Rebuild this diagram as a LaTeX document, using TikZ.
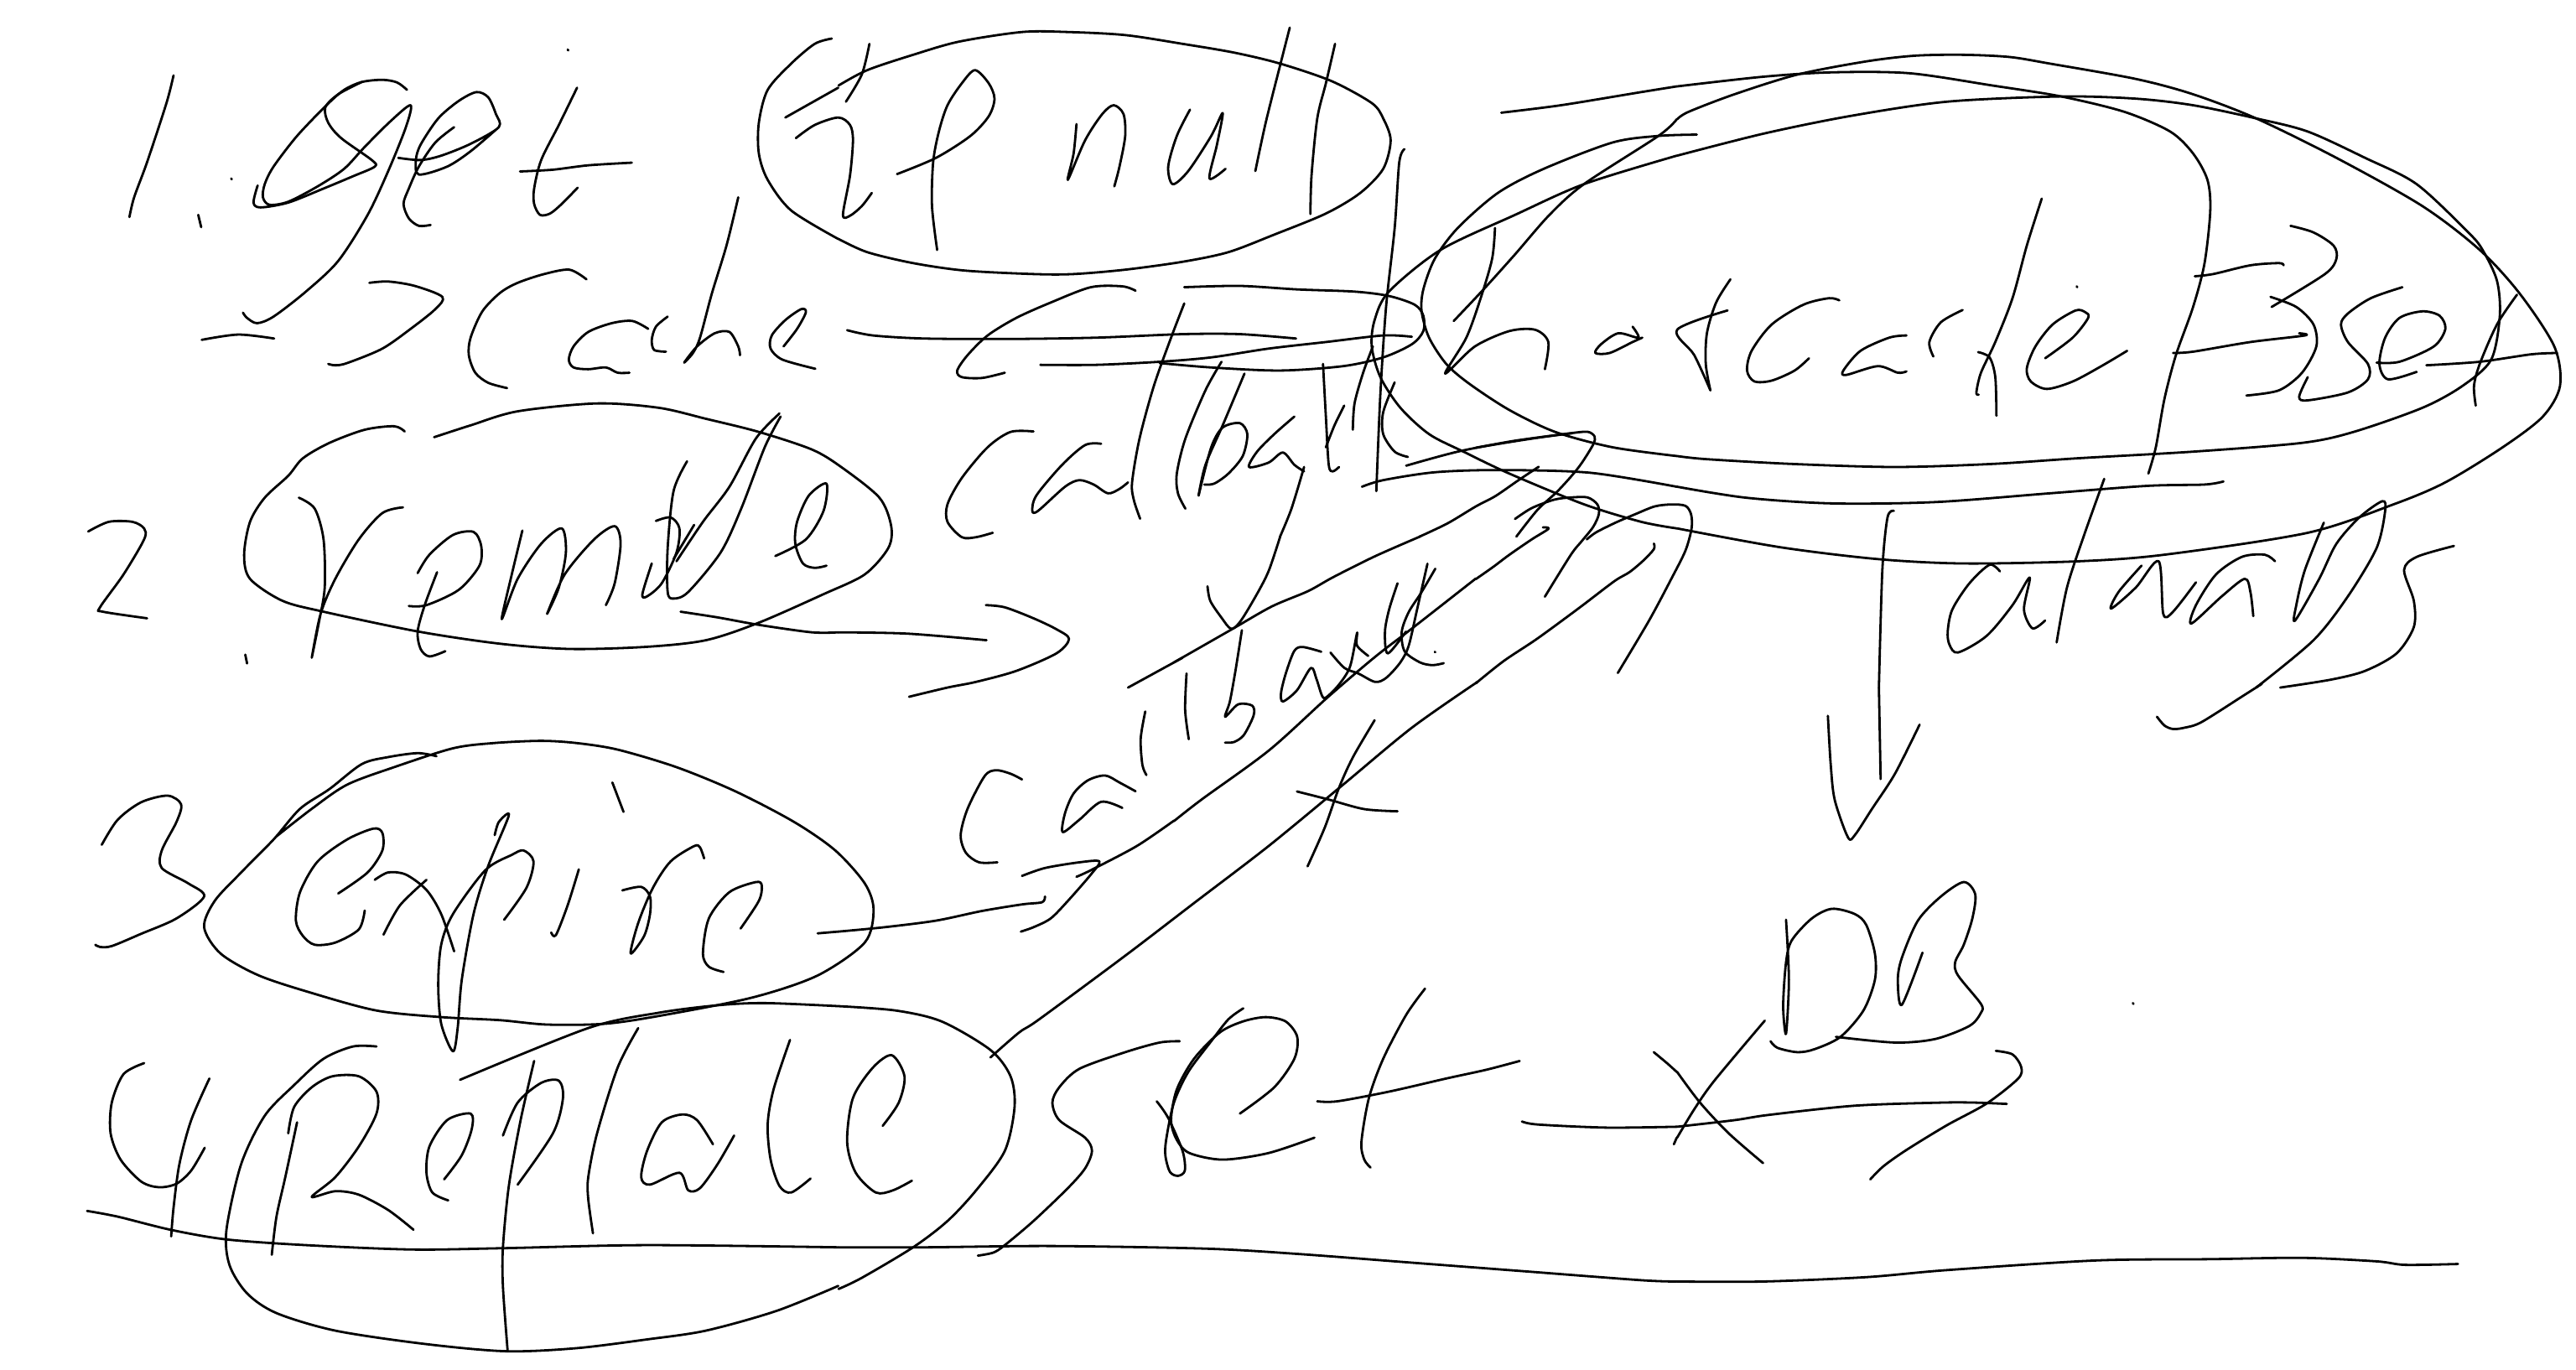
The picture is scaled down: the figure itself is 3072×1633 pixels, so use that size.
\documentclass[tikz,border=0pt]{standalone}
\tikzset{
 ink/.style={line width=2.8pt,black,line cap=round,line join=round},
 zone/.style={xscale=.6837,yscale=.523},
 za/.style={xscale=.7015,yscale=.523},
 zb/.style={shift={(1000,0)},zone},
 zc/.style={shift={(2000,0)},zone},
 zd/.style={shift={(0,813)},za},
 ze/.style={shift={(1000,813)},zone},
 zf/.style={shift={(2000,813)},zone},
 zg/.style={shift={(1400,640)},scale=.3333},
 zh/.style={shift={(1760,480)},scale=.3333},
}
\newcommand\sk[2]{\draw[#1,ink] plot[smooth,tension=.5] coordinates {#2};}
\begin{document}
\begin{tikzpicture}[x=1pt,y=-1pt]
\useasboundingbox[fill=white] (0,0) rectangle (3072,1633);
% 1. get
\sk{za}{(295,172)(283,235)(250,370)(228,450)(220,495)}
\sk{za}{(337,490)(342,518)}
\sk{za}{(393,407)(394,409)}
\sk{za}{(965,113)(966,115)}
\sk{za}{(417,1493)(420,1513)}
\sk{za}{(692,205)(675,188)(650,182)(615,187)(585,205)(555,240)(505,310)(465,380)(450,420)(447,450)(458,467)(490,460)(540,425)(585,385)(620,335)(665,275)(698,240)(690,290)(660,390)(625,490)(575,595)(520,665)(465,722)(437,737)(420,725)(413,713)}
\sk{za}{(438,423)(431,462)(443,473)(490,462)(550,430)(600,402)(637,380)(632,365)(580,315)(558,280)(553,245)(575,215)(615,187)}
\sk{za}{(677,360)(715,365)(750,355)(800,328)(848,290)(843,260)(830,222)(810,210)(780,230)(745,270)(715,330)(707,365)(712,398)(760,380)(800,345)(848,290)}
\sk{za}{(772,290)(740,325)(712,380)(695,430)(686,465)(695,498)(712,515)(732,513)}
\sk{za}{(981,200)(950,285)(920,365)(908,430)(908,465)(918,490)(935,487)(955,465)(982,428)}
\sk{za}{(884,391)(940,387)(1000,377)(1074,371)}
% -> Cache
\sk{za}{(343,775)(405,763)(466,772)}
\sk{za}{(628,645)(660,642)(705,652)(752,677)(740,705)(700,748)(650,795)(590,828)(570,833)(558,830)}
\sk{za}{(997,637)(968,615)(925,625)(880,645)(850,668)(820,710)(800,770)(797,810)(808,850)(830,873)(862,885)}
\sk{za}{(1102,750)(1075,732)(1040,737)(1000,757)(975,790)(967,820)(975,838)(1000,842)(1030,838)(1050,850)(1070,850)}
\sk{za}{(1135,722)(1115,745)(1108,775)(1112,798)(1132,802)}
\sk{za}{(1255,450)(1235,560)(1210,670)(1190,770)(1178,805)(1163,827)(1185,790)(1215,760)(1240,757)(1255,790)(1258,810)}
\sk{za}{(1332,790)(1355,750)(1370,712)(1362,705)(1335,730)(1312,765)(1310,795)(1330,820)(1386,841)}
% if null
\sk{za}{(1414,88)(1385,100)(1345,145)(1305,205)(1290,280)(1290,350)(1305,410)(1345,480)(1425,545)}
\sk{zb}{(0,545)(50,575)(130,600)(220,617)(340,625)(410,625)(500,615)(600,597)(680,575)(760,535)(850,487)(910,440)(950,385)(963,320)(950,270)(930,235)(860,185)(770,145)(690,120)(600,100)(500,80)(400,73)(320,73)(210,95)(130,125)(50,160)(0,195)}
\sk{za}{(1425,200)(1335,268)}
\sk{za}{(1478,100)(1465,170)(1438,232)}
\sk{za}{(1353,315)(1385,285)(1425,268)(1445,285)(1450,320)(1445,400)(1433,490)(1445,492)(1465,470)(1482,440)}
\sk{zb}{(102,397)(170,360)(230,310)(262,265)(272,225)(262,190)(238,160)(215,190)(190,240)(175,300)(165,370)(163,470)(172,570)}
\sk{zb}{(415,283)(410,350)(400,410)(430,320)(460,260)(480,240)(497,260)(500,310)(490,380)(481,425)}
\sk{zb}{(613,250)(590,310)(575,380)(583,420)(610,390)(650,310)(670,258)(660,330)(647,407)(675,385)}
\sk{zb}{(787,63)(770,150)(745,280)(727,390)}
\sk{zb}{(866,100)(850,190)(835,270)(825,400)(823,488)}
\sk{zb}{(987,340)(978,370)(970,520)(955,700)(945,900)(938,1120)}
% cache arrow and loop
\sk{zb}{(15,753)(60,765)(150,772)(300,773)(450,770)(600,762)(700,762)(798,772)}
\sk{zb}{(352,832)(450,832)(560,825)(650,815)(750,795)(850,780)(950,765)(1000,768)}
\sk{zb}{(603,655)(700,652)(800,660)(900,665)(960,675)(1005,695)(1020,720)(1020,755)(1000,785)(950,815)(880,835)(770,845)(650,838)(560,828)}
\sk{zb}{(518,663)(495,653)(440,655)(370,690)(310,725)(260,765)(225,810)(207,845)(215,860)(250,862)(290,850)}
\sk{zb}{(603,692)(580,770)(550,880)(525,1000)(512,1100)(515,1140)(526,1183)}
% hotcache ellipses
\sk{zb}{(1497,307)(1430,310)(1350,325)(1230,385)(1150,440)(1080,520)(1040,590)(1020,660)(1017,710)(1030,770)(1060,830)(1100,875)(1170,935)(1250,985)(1350,1020)(1462,1040)}
\sk{zc}{(0,1040)(50,1047)(200,1058)(380,1065)(550,1058)(700,1045)(900,1030)(1090,1010)(1180,985)(1300,930)(1370,880)(1420,820)(1435,720)(1430,640)(1405,570)(1380,530)(1290,420)(1200,360)(1100,300)(1010,270)(900,240)(800,225)(670,220)(470,232)(300,265)(150,305)(0,355)}
\sk{zb}{(1462,355)(1300,420)(1180,490)(1050,570)(960,665)(935,730)(930,790)(945,860)(980,930)(1030,990)(1090,1030)(1170,1080)(1300,1150)(1400,1190)(1462,1205)}
\sk{zc}{(0,1205)(180,1248)(350,1275)(500,1285)(700,1280)(850,1265)(1100,1215)(1250,1150)(1340,1100)(1440,1020)(1510,950)(1540,880)(1530,790)(1470,670)(1400,570)(1300,470)(1150,360)(1010,270)(900,215)(800,180)(650,145)(580,130)(500,125)(415,127)(330,140)(210,170)(100,215)(20,255)(0,272)}
\sk{zb}{(1462,272)(1430,310)(1300,420)(1240,490)(1180,580)(1125,660)(1073,732)}
\sk{zb}{(1156,257)(1260,240)(1400,210)(1462,197)}
\sk{zc}{(0,197)(150,175)(270,165)(405,167)(550,195)(670,220)(780,255)(860,300)(900,350)(925,410)(930,480)(920,600)(900,700)(870,810)(850,910)(835,1020)(822,1080)}
% hot
\sk{zb}{(1145,520)(1140,590)(1120,680)(1095,770)(1058,852)(1110,790)(1170,755)(1215,752)(1238,780)(1232,842)}
\sk{zb}{(1385,745)(1395,770)(1360,760)(1330,785)(1320,805)(1345,805)(1385,780)(1402,770)}
\sk{zc}{(93,637)(68,690)(52,760)(50,830)(58,890)}
\sk{zc}{(88,708)(0,752)(30,810)(58,890)}
% callback 1
\sk{zb}{(340,984)(300,985)(260,1020)(215,1090)(190,1150)(190,1190)(215,1225)(240,1225)(269,1215)}
\sk{zb}{(458,1012)(430,1015)(390,1060)(345,1130)(338,1165)(348,1165)(395,1110)(420,1095)(445,1105)(470,1125)(490,1115)(505,1100)}
\sk{zb}{(668,825)(640,890)(605,1000)(590,1080)(592,1125)(605,1160)}
\sk{zb}{(708,852)(670,970)(640,1060)(628,1130)}
\sk{zb}{(628,1130)(650,1020)(670,975)(700,965)(713,990)(705,1040)(680,1080)(655,1103)(638,1105)}
\sk{zb}{(795,950)(760,990)(730,1030)(716,1065)(750,1055)(775,1032)(795,1060)(812,1075)}
\sk{zb}{(845,830)(850,950)(855,1060)(862,1075)(873,1065)}
\sk{zb}{(882,925)(865,970)(850,1020)}
\sk{zb}{(932,790)(915,850)(900,920)(897,980)}
\sk{zb}{(970,872)(950,940)(950,990)(970,1030)(993,1042)}
\sk{zb}{(812,1065)(790,1160)(770,1224)}
\sk{zg}{(380,0)(340,120)(300,200)(240,300)(205,330)(170,290)(130,230)(120,178)}
% arrowheads at hotcache
\sk{zb}{(990,1062)(1080,1030)(1180,1005)(1280,988)}
\sk{zh}{(0,162)(120,142)(230,125)(340,110)(400,105)(425,122)(420,150)(380,215)(345,260)(290,320)(220,385)(145,480)}
\sk{zb}{(913,1110)(950,1095)(1040,1077)(1150,1072)(1310,1078)(1462,1110)}
\sk{zc}{(0,1110)(120,1135)(270,1148)(450,1145)(650,1125)(820,1108)(920,1105)(953,1098)}
\sk{zh}{(225,230)(150,280)(70,335)(0,372)(-100,432)(-201,480)}
\sk{zg}{(880,0)(720,70)(570,145)(480,195)(350,250)(210,330)(0,450)}
\sk{zb}{(600,1500)(505,1568)}
\sk{zh}{(140,417)(200,378)(280,348)(340,340)(400,340)(435,365)(440,400)(420,445)(380,495)(340,545)(247,695)}
\sk{zh}{(240,447)(260,452)(200,490)(120,545)(60,590)(0,632)}
\sk{zg}{(1080,150)(850,330)(720,430)(550,575)(340,765)(100,940)(0,1018)}
\sk{ze}{(585,317)(520,375)(440,430)(415,445)}
\sk{zh}{(397,490)(430,465)(500,430)(570,400)(640,372)(700,365)(750,370)(770,400)(772,450)(750,530)(700,630)(620,780)(508,968)}
\sk{zh}{(637,505)(637,525)(600,565)(550,607)(495,640)(370,735)(220,845)(100,925)(0,1005)}
\sk{ze}{(1115,0)(1000,105)(880,235)(750,375)(620,505)(500,625)(350,770)(315,800)(265,857)}
\sk{zg}{(718,657)(640,790)(590,900)(540,1040)(478,1180)}
\sk{zg}{(440,912)(550,940)(680,975)(800,983)}
% callback 2
\sk{zg}{(45,490)(40,620)(53,725)}
\sk{zg}{(243,335)(220,480)(200,590)(183,645)(230,600)(280,605)(285,640)(250,710)(215,735)(183,737)}
\sk{zg}{(527,412)(460,395)(430,410)(400,490)(383,560)(390,590)(440,550)(490,470)(510,510)(530,570)(545,575)(590,530)(630,465)(655,345)(655,390)(695,427)}
\sk{zg}{(560,415)(610,470)(660,490)(720,520)(760,505)(810,450)(840,390)(870,260)(907,97)}
\sk{zg}{(800,167)(770,260)(755,340)(765,418)(830,340)}
\sk{zg}{(935,115)(885,200)(840,270)(815,340)(825,410)(880,450)(925,460)(965,453)}
\sk{zg}{(933,412)(935,414)}
\sk{ze}{(320,223)(300,210)(275,202)(255,215)(225,290)(213,350)(222,390)(245,412)(277,412)}
\sk{ze}{(518,250)(490,230)(465,214)(435,225)(410,255)(395,300)(391,343)(420,315)(458,274)(495,288)}
\sk{ze}{(535,68)(527,130)(530,190)(537,213)}
% remove
\sk{za}{(150,1212)(185,1190)(225,1190)(245,1205)(245,1230)(210,1310)(170,1385)(175,1395)(250,1410)}
\sk{za}{(688,984)(670,972)(620,980)(560,1010)(515,1045)(490,1085)(450,1135)(425,1190)(415,1265)(425,1320)(480,1370)(550,1395)(710,1440)(850,1468)(970,1480)(1100,1475)(1200,1460)(1290,1420)(1400,1355)(1470,1310)(1510,1250)(1515,1200)(1495,1135)(1430,1065)(1380,1025)(1290,985)(1200,955)(1120,930)(1015,920)(880,938)(800,970)(738,997)}
\sk{za}{(508,1135)(535,1160)(550,1230)(552,1340)(542,1420)(530,1500)(545,1400)(570,1320)(610,1230)(650,1170)(685,1157)}
\sk{za}{(695,1382)(725,1380)(780,1345)(815,1290)(818,1245)(805,1213)(770,1220)(730,1265)(710,1307)}
\sk{za}{(743,1305)(722,1380)(710,1440)(715,1480)(730,1497)(757,1485)}
\sk{za}{(888,1210)(870,1310)(853,1412)(880,1320)(920,1240)(955,1205)(962,1260)(950,1340)(930,1400)(960,1310)(1010,1230)(1045,1200)(1055,1240)(1045,1330)(1030,1380)}
\sk{za}{(1115,1188)(1140,1180)(1155,1205)(1150,1260)(1125,1330)(1100,1360)(1092,1355)(1108,1285)}
\sk{za}{(1168,1052)(1145,1120)(1135,1250)(1135,1350)(1145,1365)(1170,1350)(1225,1260)(1260,1160)(1300,1020)(1327,950)}
\sk{za}{(1325,943)(1285,1000)(1240,1110)(1195,1190)(1150,1280)}
\sk{za}{(1180,1197)(1145,1275)}
\sk{za}{(1318,1268)(1370,1230)(1400,1165)(1405,1103)(1375,1130)(1355,1190)(1352,1240)(1365,1285)(1385,1295)(1405,1290)}
\sk{za}{(1157,1395)(1220,1408)(1290,1425)(1380,1442)(1425,1442)}
\sk{zb}{(0,1442)(120,1445)(258,1460)}
\sk{zb}{(257,1380)(290,1385)(340,1410)(380,1435)(402,1457)(380,1490)(310,1530)(240,1555)(190,1568)(123,1589)}
% expire
\sk{zd}{(173,372)(200,315)(240,275)(285,260)(308,280)(300,320)(275,385)(275,425)(320,460)(347,490)(300,540)(240,575)(190,603)(170,605)(162,600)}
\sk{zd}{(742,170)(710,163)(660,172)(615,188)(560,245)(510,290)(465,360)(410,435)(365,500)(347,560)(375,620)(440,670)(530,710)(640,750)(750,765)(850,772)(930,782)(1030,780)(1130,760)(1280,720)(1390,670)(1470,595)(1485,520)(1470,460)(1420,385)(1350,320)(1250,250)(1150,195)(1050,155)(980,140)(920,135)(840,140)(770,152)(670,195)(590,235)(530,290)(468,355)}
\sk{zd}{(575,483)(625,435)(650,385)(650,345)(635,335)(590,360)(540,410)(510,480)(503,545)(515,580)(535,600)(570,595)(610,565)(620,522)}
\sk{zd}{(637,452)(660,435)(690,440)(725,475)(750,530)(772,615)}
\sk{zd}{(725,452)(680,510)(652,577)}
\sk{zd}{(841,350)(848,320)(865,305)(830,420)(805,530)(785,680)(778,790)(770,843)(750,780)(745,690)(750,600)(770,530)(825,430)(870,395)(890,385)(907,410)(895,470)(857,543)}
\sk{zd}{(1041,230)(1060,297)}
\sk{zd}{(984,428)(965,510)(945,578)(937,572)}
\sk{zd}{(1058,476)(1090,468)(1105,490)(1105,530)(1095,580)(1072,620)(1085,550)(1110,470)(1140,410)(1180,375)(1190,378)(1197,403)}
\sk{zd}{(1259,563)(1290,500)(1295,465)(1285,457)(1240,480)(1205,540)(1195,620)(1205,650)(1230,662)}
\sk{zd}{(1390,574)(1425,570)}
\sk{ze}{(0,570)(80,560)(170,545)(250,523)(320,508)(355,503)(360,490)}
\sk{ze}{(320,443)(360,425)(420,412)(455,410)(440,440)(400,500)(370,540)(340,560)(318,570)}
% replace
\sk{zd}{(245,870)(210,895)(190,960)(188,1030)(205,1090)(240,1140)(270,1153)(300,1145)(325,1115)(348,1063)}
\sk{zd}{(356,905)(325,1000)(305,1100)(295,1200)(291,1265)}
\sk{zd}{(640,832)(600,832)(550,860)(500,920)(450,990)(410,1100)(385,1250)(390,1330)(420,1395)(470,1440)(570,1480)(720,1510)(860,1527)(980,1520)(1100,1500)(1200,1480)(1320,1435)(1425,1378)}
\sk{ze}{(0,1385)(40,1360)(130,1290)(190,1230)(240,1160)(290,1070)(307,970)(300,900)(265,840)(180,775)(100,750)(0,740)}
\sk{zd}{(1425,740)(1300,733)(1220,738)(1120,755)(1000,790)(782,908)}
\sk{zd}{(490,1030)(500,970)(530,925)(565,900)(610,900)(640,935)(640,985)(610,1060)(570,1130)(530,1175)(570,1162)(610,1170)(660,1205)(703,1250)}
\sk{zd}{(505,1005)(485,1130)(470,1220)(462,1307)}
\sk{zd}{(755,1135)(785,1080)(802,1020)(800,985)(760,1000)(730,1060)(725,1120)(735,1165)(762,1183)}
\sk{zd}{(855,1035)(880,960)(920,915)(950,910)(957,950)(940,1030)(880,1147)}
\sk{zd}{(908,865)(885,1000)(865,1150)(855,1290)(855,1380)(863,1527)}
\sk{zd}{(1085,790)(1050,880)(1015,1030)(1000,1130)(1000,1180)(1008,1258)}
\sk{zd}{(1212,1055)(1185,1000)(1160,987)(1125,1005)(1100,1070)(1090,1130)(1105,1147)(1155,1120)(1170,1160)(1190,1155)(1220,1100)(1248,1035)}
\sk{zd}{(1343,817)(1315,930)(1305,1010)(1310,1090)(1325,1150)(1345,1165)(1378,1133)}
\sk{ze}{(77,1013)(105,960)(115,900)(93,852)(60,880)(25,950)(15,1050)(30,1120)(65,1165)(95,1160)(128,1138)}
% set
\sk{ze}{(595,820)(560,823)(500,845)(420,883)(385,925)(373,960)(385,1000)(430,1040)(442,1070)(430,1110)(400,1155)(340,1230)(290,1285)(270,1302)(243,1309)}
\sk{ze}{(706,745)(680,770)(650,820)(610,890)(585,960)(572,1040)(570,1080)(578,1118)(592,1127)(604,1115)(600,1070)(575,995)(555,957)}
\sk{ze}{(700,985)(760,925)(795,860)(800,810)(780,775)(745,765)(705,775)(665,800)(620,860)(590,930)(580,1000)(590,1045)(612,1075)(670,1090)(750,1075)(830,1040)}
\sk{ze}{(1023,700)(990,760)(950,860)(925,950)(912,1050)(917,1090)(928,1108)}
\sk{ze}{(835,957)(870,957)(960,935)(1060,905)(1130,885)(1188,865)}
\sk{ze}{(1192,1003)(1220,1010)(1340,1017)(1462,1015)}
\sk{zf}{(0,1015)(100,1000)(160,988)(310,967)(460,960)(520,960)(575,963)}
\sk{ze}{(1422,845)(1445,870)(1462,890)}
\sk{zf}{(0,890)(40,960)(90,1030)(150,1098)}
\sk{zf}{(153,773)(65,910)(30,975)(0,1040)}
\sk{ze}{(1462,1040)(1457,1055)}
\sk{zf}{(556,842)(585,850)(600,878)(595,905)(540,962)(470,1012)(400,1068)(360,1105)(337,1135)}
% DB
\sk{zf}{(190,543)(195,680)(190,803)(185,740)(190,640)(200,590)(235,540)(270,518)(310,530)(330,555)(345,620)(345,680)(325,750)(285,810)(240,838)(210,845)(175,835)(163,820)}
\sk{zf}{(428,618)(392,737)(385,680)(392,630)(420,545)(460,490)(500,457)(520,485)(515,540)(500,600)(485,640)(490,670)(530,735)(530,755)(510,785)(450,815)(380,823)(277,810)}
\sk{zc}{(378,1165)(367,1180)(358,1300)(352,1568)}
\sk{zf}{(352,14)(355,222)}
\sk{zf}{(263,78)(268,190)(275,270)(298,355)(310,350)(340,290)(380,210)(423,98)}
\sk{zf}{(795,733)(796,735)}
% base line
\sk{zd}{(148,1207)(200,1220)(290,1250)(385,1272)(520,1285)(700,1295)(855,1292)(1100,1285)(1425,1290)}
\sk{ze}{(0,1290)(150,1290)(370,1287)(640,1293)(800,1305)(1000,1325)(1200,1345)(1400,1365)(1462,1368)}
\sk{zf}{(0,1368)(150,1368)(330,1358)(470,1342)(730,1320)(930,1317)(1090,1314)(1220,1322)(1270,1330)(1362,1328)}
% cache right side glyphs
\sk{zc}{(283,685)(265,680)(220,695)(165,740)(130,800)(122,845)(135,870)(165,868)(205,845)(230,817)}
\sk{zc}{(400,765)(370,770)(320,800)(290,845)(295,855)(350,835)(385,850)(400,847)}
\sk{zc}{(498,707)(460,735)(440,780)(447,813)}
\sk{zc}{(636,453)(610,560)(585,680)(555,780)(530,850)(522,895)(526,900)}
\sk{zc}{(525,803)(545,815)(555,860)(557,948)}
\sk{zc}{(642,817)(690,770)(717,725)(712,712)(695,708)(655,740)(625,790)(610,840)(617,870)(645,887)(690,870)(740,835)(785,800)}
\sk{zc}{(697,653)(698,655)}
\sk{zc}{(1070,515)(1110,530)(1145,560)(1150,590)(1130,625)(1037,700)}
\sk{zc}{(1035,677)(1080,700)(1110,740)(1115,790)(1090,850)(1050,890)(993,902)}
\sk{zc}{(903,630)(935,625)(1000,605)(1050,600)(1058,605)}
\sk{zc}{(865,805)(900,802)(1000,780)(1095,765)(1085,760)}
\sk{zc}{(1265,655)(1210,680)(1170,715)(1158,740)(1170,780)(1205,830)(1205,865)(1170,895)(1100,913)(1085,905)(1100,860)}
\sk{zc}{(1220,827)(1260,825)(1320,790)(1340,750)(1330,720)(1300,710)(1260,725)(1235,770)(1225,830)(1240,865)(1290,848)}
\sk{zc}{(1465,672)(1430,740)(1400,830)(1390,880)(1393,925)}
\sk{zc}{(1307,833)(1400,825)(1490,808)(1535,805)}
% dataname
\sk{zc}{(745,1092)(710,1220)(680,1340)(662,1465)}
\sk{zc}{(563,1303)(545,1288)(510,1330)(480,1390)(472,1440)(475,1470)(490,1488)(540,1450)(585,1380)(615,1317)(605,1390)(620,1433)(642,1415)}
\sk{zc}{(810,1290)(770,1350)(757,1388)(800,1340)(840,1280)(848,1400)(865,1395)(905,1328)}
\sk{zc}{(1043,1280)(1025,1265)(985,1270)(940,1310)(905,1380)(897,1422)(950,1360)(990,1320)(1000,1350)(1005,1405)}
\sk{zc}{(1128,1192)(1095,1300)(1080,1380)(1078,1415)(1120,1320)(1150,1240)(1190,1180)(1230,1143)(1235,1165)(1220,1250)(1170,1360)(1110,1460)(1010,1568)}
\sk{zf}{(1020,5)(990,30)(915,92)(885,105)(865,108)(850,100)(837,80)}
\sk{zc}{(1355,1245)(1290,1270)(1268,1300)(1285,1370)(1285,1430)(1255,1490)(1200,1530)(1140,1550)(1052,1568)}
\end{tikzpicture}
\end{document}
